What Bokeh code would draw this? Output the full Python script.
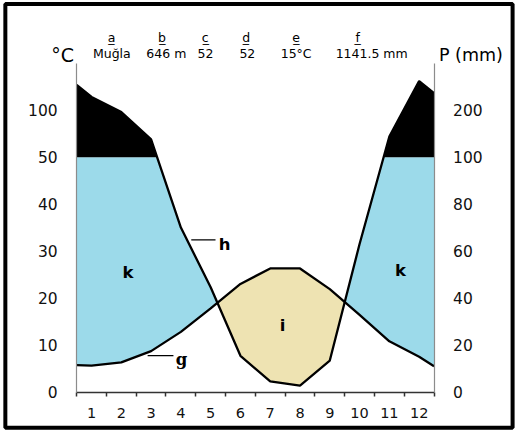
import numpy as np
from bokeh.plotting import figure
from bokeh.models import Range1d, LinearAxis, FixedTicker, Label, BoxAnnotation
from bokeh.embed import file_html
from bokeh.resources import INLINE

# ---------------- data ----------------
months = [1, 2, 3, 4, 5, 6, 7, 8, 9, 10, 11, 12]
temp = [5.6, 6.3, 8.7, 12.8, 17.8, 23.0, 26.3, 26.3, 21.9, 16.4, 10.8, 7.5]      # °C
prec = [228, 196, 138, 70, 44.6, 15.4, 4.5, 2.7, 13.4, 63, 144, 262]              # mm
temp_edges = [5.7, 5.5]      # values read where the curves meet the left / right border
prec_edges = [254, 236]

temp_ticks = [0, 10, 20, 30, 40, 50, 100]
prec_ticks = [0, 20, 40, 60, 80, 100, 200]

header_keys = ["a", "b", "c", "d", "e", "f"]
header_values = ["Muğla", "646 m", "52", "52", "15°C", "1141.5 mm"]


def num(v):
    return int(v) if float(v).is_integer() else float(v)


def t_int(v):           # temperature -> plot units (compressed above 50)
    return num(v if v <= 50 else 50 + (v - 50) / 5)


def p_int(v):           # precipitation -> plot units (P = 2T, compressed above 100)
    return num(v / 2 if v <= 100 else 50 + (v - 100) / 10)


x_ext = [0.5] + months + [12.5]
T_ext = [temp_edges[0]] + temp + [temp_edges[1]]
P_ext = [p_int(v) for v in [prec_edges[0]] + prec + [prec_edges[1]]]

xs = np.linspace(0.5, 12.5, 4801)
Ti = np.interp(xs, x_ext, T_ext)
Pi = np.interp(xs, x_ext, P_ext)

# ---------------- layout (frame = whole canvas, axes at fixed locations) ----------------
W, H = 515, 432
SX, SY = W / 531, H / 448
X0, X1 = 78.5 * SX, 447 * SX          # canvas px of x = 0.5 and x = 12.5
Y0, Y70 = 406 * SY, 65 * SY           # canvas px of y = 0 and y = 70
ppx = (X1 - X0) / 12
ppy = (Y0 - Y70) / 70


def X(rx):
    return 0.5 + (rx * SX - X0) / ppx


def Y(ry):
    return (Y0 - ry * SY) / ppy


p = figure(width=W, height=H, title=None,
           x_range=Range1d(0.5 - X0 / ppx, 0.5 + (W - X0) / ppx),
           y_range=Range1d(-(H - Y0) / ppy, 70 + Y70 / ppy),
           x_axis_type=None, y_axis_type=None, output_backend="svg", toolbar_location=None,
           min_border=0, min_border_left=0, min_border_right=0, min_border_top=0, min_border_bottom=0)
p.outline_line_color = None
p.background_fill_color = "white"
p.border_fill_color = "white"

BLUE = "#9CDAEA"
BEIGE = "#EEE3B2"

p.varea(x=xs, y1=Ti, y2=np.maximum(Ti, np.minimum(Pi, 50)), fill_color=BLUE)
p.varea(x=xs, y1=Pi, y2=np.maximum(Pi, Ti), fill_color=BEIGE)
p.varea(x=xs, y1=np.full_like(xs, 50.0), y2=np.maximum(50.0, Pi), fill_color="black")

p.line(x_ext, T_ext, line_color="black", line_width=2.3)
p.line(x_ext, P_ext, line_color="black", line_width=2.3)

# leader lines
p.segment(x0=[X(196.7), X(151.7)], y0=[Y(248.3), Y(368.3)],
          x1=[X(221.7), X(178.3)], y1=[Y(248.3), Y(368.3)],
          line_color="black", line_width=1.3)

# axes
yl = LinearAxis(ticker=FixedTicker(ticks=[t_int(v) for v in temp_ticks], minor_ticks=[]),
                major_label_overrides={t_int(v): str(v) for v in temp_ticks},
                fixed_location=0.5, bounds=(0, 70))
yr = LinearAxis(ticker=FixedTicker(ticks=[p_int(v) for v in prec_ticks], minor_ticks=[]),
                major_label_overrides={p_int(v): str(v) for v in prec_ticks},
                fixed_location=12.5, bounds=(0, 70))
for ax in (yl, yr):
    ax.axis_line_color = "#8c8c8c"
    ax.axis_line_width = 1.2
    ax.major_tick_out = 0
    ax.major_tick_in = 0
    ax.minor_tick_out = 0
    ax.minor_tick_in = 0
    ax.major_label_text_font = "DejaVu Sans"
    ax.major_label_text_font_size = "15.5px"
    ax.major_label_text_color = "#111111"
    ax.major_label_standoff = 19
p.add_layout(yl, "left")
p.add_layout(yr, "right")

xa = LinearAxis(ticker=FixedTicker(ticks=months, minor_ticks=[m - 0.5 for m in months] + [12.5]),
                fixed_location=0, bounds=(0.5, 12.5))
xa.axis_line_color = "#333333"
xa.axis_line_width = 1.5
xa.major_tick_out = 0
xa.major_tick_in = 0
xa.minor_tick_out = 4
xa.minor_tick_in = 0
xa.minor_tick_line_color = "#333333"
xa.minor_tick_line_width = 1.5
xa.major_label_text_font = "DejaVu Sans"
xa.major_label_text_font_size = "14.5px"
xa.major_label_text_color = "#111111"
xa.major_label_standoff = 12
p.add_layout(xa, "below")

# outer frame of the picture
p.add_layout(BoxAnnotation(left=X(5), right=X(528), top=Y(3.5), bottom=Y(443),
                           fill_color=None, fill_alpha=0, line_color="black",
                           line_alpha=1.0, line_width=4))

# header
key_px = [114.5, 166.6, 211, 253.3, 304.8, 368.4]
val_px = [114.8, 171, 211.3, 254.5, 304.8, 382.7]
for k, kx in zip(header_keys, key_px):
    p.add_layout(Label(x=X(kx), y=Y(38.5), text=k + "\u0332", text_align="center",
                       text_baseline="middle", text_font="DejaVu Sans", text_font_size="12.5px",
                       text_color="black"))
for v, vx in zip(header_values, val_px):
    p.add_layout(Label(x=X(vx), y=Y(55), text=v, text_align="center", text_baseline="middle",
                       text_font="DejaVu Sans", text_font_size="12.5px", text_color="black"))

p.add_layout(Label(x=X(64), y=Y(57), text="°C", text_align="center", text_baseline="middle",
                   text_font="DejaVu Sans", text_font_size="19px", text_color="black"))
p.add_layout(Label(x=X(485), y=Y(57), text="P (mm)", text_align="center", text_baseline="middle",
                   text_font="DejaVu Sans", text_font_size="17.5px", text_color="black"))

# area / curve letters
for t, rx, ry, font in [("k", 131.5, 282, "DejaVu Sans"), ("k", 412.5, 280, "DejaVu Sans"),
                        ("i", 290.8, 337.3, "DejaVu Sans"), ("h", 231, 253.3, "DejaVu Sans"),
                        ("g", 186.7, 372.5, "DejaVu Serif")]:
    p.add_layout(Label(x=X(rx), y=Y(ry), text=t, text_align="center", text_baseline="alphabetic",
                       text_font=font, text_font_size="16.5px", text_font_style="bold",
                       text_color="black"))

open("out.html", "w").write(file_html(p, INLINE))
